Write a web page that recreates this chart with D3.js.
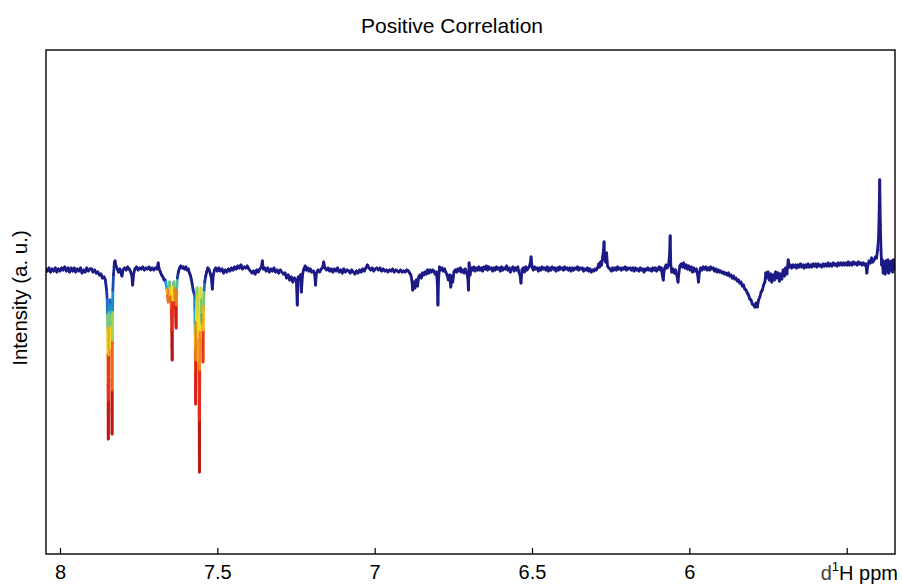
<!DOCTYPE html>
<html><head><meta charset="utf-8">
<script src="https://cdn.jsdelivr.net/npm/d3@7/dist/d3.min.js"></script>
<style>body{margin:0;background:#fff} text{font-family:"Liberation Sans",Arial,Helvetica,sans-serif;fill:#000}</style>
</head><body><svg id="c" width="902" height="587"></svg>
<script>
const title = "Positive Correlation";
const yLabel = "Intensity (a. u.)";
const xTicks = [8, 7.5, 7, 6.5, 6, 5.5];
const xTickLabels = ["8", "7.5", "7", "6.5", "6", ""];
const xLimits = [8.0445, 5.3465];
const yLimits = [-2.84, 2.2];
// [ppm, intensity, correlation]
const spectrum = [
[8.045,0.01],[8.04,-0.01],[8.035,0.02],[8.03,-0.02],[8.025,0.01],[8.02,-0.01],[8.015,0.02],[8.01,-0.02],[8.005,0.01],[8.00,-0.01],[7.995,0.02],[7.99,0.00],[7.985,0.03],[7.98,-0.01],[7.975,0.02],[7.97,-0.02],[7.965,0.02],[7.96,-0.01],[7.955,0.02],[7.95,-0.02],[7.945,0.01],[7.94,-0.01],[7.935,0.02],[7.93,-0.03],[7.925,0.00],[7.92,-0.02],[7.915,0.02],[7.91,-0.01],[7.905,0.01],[7.90,0.01],[7.895,-0.02],[7.89,0.00],[7.885,-0.03],[7.88,-0.02],[7.875,-0.05],[7.87,-0.04],[7.865,-0.08],[7.86,-0.07],[7.856,-0.1],
[7.852,-0.2,0.05],[7.850,-0.3,0.12],[7.849,-0.45,0.3],[7.8485,-0.6,0.5],[7.848,-0.85,0.68],[7.8475,-1.15,0.78],[7.847,-1.45,0.86],[7.8466,-1.69,0.95],
[7.846,-1.3,0.88],[7.8455,-0.85,0.76],[7.845,-0.55,0.55],[7.844,-0.4,0.32],[7.842,-0.32,0.2],[7.840,-0.3,0.15],[7.838,-0.35,0.25],
[7.837,-0.45,0.32],[7.8365,-0.58,0.5],[7.836,-0.8,0.68],[7.8355,-1.1,0.78],[7.835,-1.4,0.86],[7.8345,-1.64,0.95],
[7.834,-1.2,0.88],[7.8335,-0.7,0.62],[7.833,-0.4,0.32],[7.832,-0.2,0.2],[7.830,-0.05,0.08],
[7.827,0.08],[7.825,0.09],[7.822,0.04],[7.818,0.01],[7.814,-0.02],[7.81,0.01],[7.806,-0.03],[7.803,-0.06],[7.80,0.0],
[7.795,0.02],[7.79,0.0],[7.785,0.03],[7.78,0.01],[7.775,-0.02],[7.772,-0.05],[7.769,-0.15],[7.766,-0.04],[7.762,0.01],[7.757,0.03],[7.752,0.0],[7.747,0.02],[7.742,0.01],[7.737,0.03],[7.732,0.0],[7.727,0.02],[7.722,0.01],[7.717,0.03],[7.712,0.0],[7.707,0.02],[7.702,0.0],[7.697,0.02],[7.692,0.01],[7.688,0.07],[7.685,0.01],[7.681,-0.02],[7.677,-0.05],[7.673,-0.07],[7.669,-0.10],[7.666,-0.1],
[7.664,-0.12,0.1],[7.660,-0.2,0.5],[7.658,-0.26,0.76],[7.656,-0.32,0.86],[7.654,-0.18,0.6],[7.652,-0.12,0.25],[7.650,-0.18,0.55],[7.648,-0.27,0.7],[7.646,-0.4,0.82],[7.645,-0.6,0.86],[7.6443,-0.75,0.9],[7.6435,-0.9,0.96],[7.643,-0.6,0.9],[7.642,-0.3,0.76],[7.640,-0.14,0.4],[7.638,-0.12,0.2],[7.636,-0.2,0.65],[7.634,-0.33,0.78],[7.6325,-0.45,0.86],[7.631,-0.58,0.92],[7.630,-0.35,0.84],[7.629,-0.18,0.6],[7.627,-0.08,0.15],
[7.624,-0.02],[7.62,0.02],[7.616,0.04],[7.612,0.02],[7.608,0.03],[7.604,0.01],[7.60,0.03],[7.596,0.0],[7.592,0.01],[7.589,-0.03],[7.586,-0.05],[7.583,-0.09],[7.580,-0.14],[7.577,-0.2,0.05],[7.574,-0.23,0.1],
[7.572,-0.26,0.15],[7.5715,-0.4,0.28],[7.571,-0.55,0.35],[7.5705,-0.65,0.55],[7.570,-0.8,0.7],[7.5695,-1.05,0.8],[7.569,-1.34,0.9],[7.568,-0.9,0.82],[7.567,-0.5,0.62],[7.566,-0.3,0.48],[7.5645,-0.18,0.42],[7.563,-0.25,0.48],[7.5615,-0.45,0.56],[7.5605,-0.7,0.62],[7.559,-0.95,0.7],[7.558,-1.3,0.82],[7.5575,-1.7,0.88],[7.557,-2.02,0.96],[7.5565,-1.5,0.88],[7.556,-1.0,0.78],[7.555,-0.6,0.62],[7.554,-0.3,0.55],[7.5525,-0.18,0.58],[7.551,-0.3,0.52],[7.5495,-0.45,0.32],[7.548,-0.55,0.3],[7.5465,-0.7,0.66],[7.5455,-0.92,0.88],[7.5445,-0.6,0.74],[7.5435,-0.35,0.55],[7.542,-0.2,0.3],[7.540,-0.12,0.12],
[7.537,-0.06],[7.534,-0.02],[7.53,0.02],[7.526,0.0],[7.522,-0.04],[7.519,-0.08],[7.516,-0.19],[7.513,-0.05],[7.509,0.0],[7.505,0.02],[7.50,-0.01],
[7.495,0.02],[7.49,-0.01],[7.485,0.01],[7.48,-0.03],[7.475,0.0],[7.47,-0.02],[7.465,0.01],[7.46,-0.01],[7.455,0.02],[7.45,0.0],[7.445,0.03],[7.44,0.01],[7.435,0.04],[7.43,0.02],[7.425,0.05],[7.42,0.01],[7.415,0.03],[7.41,0.02],[7.405,0.04],[7.40,0.01],[7.395,-0.01],[7.39,-0.03],[7.385,-0.01],[7.38,-0.04],[7.375,0.0],[7.37,-0.02],[7.365,0.01],[7.36,0.03],[7.357,0.09],[7.354,0.01],
[7.35,0.02],[7.345,-0.01],[7.34,0.02],[7.335,-0.02],[7.33,0.01],[7.325,-0.01],[7.32,0.02],[7.315,-0.02],[7.31,0.0],[7.305,-0.03],[7.30,0.0],[7.295,-0.02],
[7.29,-0.04],[7.285,-0.03],[7.28,-0.08],[7.275,-0.05],[7.27,-0.1],[7.265,-0.07],[7.26,-0.12],[7.255,-0.08],
[7.249,-0.1],[7.246,-0.35],[7.243,-0.07],[7.239,-0.1],[7.236,-0.05],[7.233,-0.22],[7.229,-0.04],[7.225,0.01],[7.221,0.04],[7.217,0.0],[7.213,0.02],[7.209,-0.01],[7.205,0.01],[7.2,-0.02],[7.195,-0.01],[7.191,-0.04],[7.188,-0.15],[7.185,-0.03],[7.18,0.0],[7.175,-0.02],[7.17,0.01],[7.166,0.02],[7.162,0.08],[7.158,0.02],
[7.153,0.0],[7.148,0.02],[7.143,-0.01],[7.138,0.01],[7.133,-0.02],[7.128,0.01],[7.123,-0.01],[7.118,0.02],[7.113,-0.02],[7.108,0.0],[7.103,-0.03],[7.098,0.01],[7.093,-0.02],[7.088,0.0],[7.083,-0.01],[7.078,-0.03],[7.073,0.0],[7.068,-0.02],[7.063,-0.04],[7.058,-0.01],[7.053,-0.03],[7.048,0.0],[7.043,-0.02],[7.038,0.01],[7.033,-0.01],[7.028,0.02],[7.023,0.05],[7.018,0.02],[7.013,0.0],[7.008,0.02],[7.003,-0.01],[6.998,0.01],[6.993,0.02],[6.988,0.0],[6.983,0.02],[6.978,-0.01],[6.973,0.01],[6.968,-0.01],[6.963,0.0],[6.958,-0.02],[6.953,0.0],[6.948,-0.01],[6.943,0.01],[6.938,-0.02],[6.933,0.0],[6.928,-0.01],[6.923,-0.02],[6.918,0.0],[6.913,-0.02],[6.908,-0.01],[6.903,-0.02],[6.898,0.0],[6.893,-0.01],[6.889,-0.03],
[6.885,-0.05],[6.882,-0.1],[6.879,-0.2],[6.876,-0.12],[6.872,-0.18],[6.868,-0.1],[6.864,-0.16],[6.86,-0.07],[6.856,-0.05],[6.852,-0.08],[6.848,-0.03],[6.844,-0.05],[6.84,-0.02],[6.836,-0.04],[6.832,0.0],[6.828,-0.03],[6.824,0.0],[6.82,-0.02],[6.816,0.0],[6.812,-0.01],[6.808,-0.04],[6.804,-0.02],[6.801,-0.12],[6.799,-0.35],[6.797,-0.1],[6.794,0.03],[6.79,0.0],[6.786,0.02],[6.782,-0.01],[6.778,0.01],[6.774,-0.02],[6.77,-0.05],[6.766,-0.1],[6.762,-0.05],[6.758,-0.17],[6.755,-0.06],[6.752,-0.12],[6.748,-0.02],[6.744,0.0],[6.74,-0.02],[6.736,0.01],[6.732,-0.01],[6.728,0.02],[6.724,-0.02],[6.72,0.0],[6.716,-0.03],[6.712,0.01],[6.708,-0.02],[6.704,-0.08],[6.702,-0.2],[6.700,0.07],[6.697,-0.05],[6.693,0.02],
[6.689,0.0],[6.685,0.03],[6.681,-0.01],[6.677,0.02],[6.673,0.0],[6.669,0.03],[6.665,0.0],[6.661,0.02],[6.657,-0.01],[6.653,0.03],[6.649,0.01],[6.645,0.04],[6.641,0.0],[6.637,0.03],[6.633,0.01],[6.629,0.02],[6.625,-0.01],[6.621,0.02],[6.617,0.0],[6.613,0.03],[6.609,0.01],[6.605,0.02],[6.601,-0.01],[6.597,0.03],[6.593,0.0],[6.589,0.02],[6.585,0.01],[6.581,0.04],[6.577,0.0],[6.573,0.02],[6.569,-0.02],[6.565,0.01],[6.561,0.03],[6.557,-0.01],[6.553,0.02],[6.549,0.0],[6.545,0.03],[6.541,-0.03],[6.538,-0.05],[6.535,-0.13],[6.532,0.0],[6.528,0.02],[6.524,-0.02],[6.52,0.03],[6.516,0.0],[6.512,0.02],[6.508,0.04],[6.505,0.08],[6.503,0.13],[6.5,0.03],[6.496,0.0],[6.492,0.03],[6.488,0.01],[6.484,0.02],[6.48,-0.01],[6.476,0.02],[6.472,0.0],[6.468,0.03],[6.464,0.01],[6.46,0.02],[6.456,0.0],[6.452,0.03],[6.448,-0.01],[6.444,0.02],[6.44,0.0],[6.436,0.03],[6.432,0.01],[6.428,0.02],[6.424,-0.01],[6.42,0.02],[6.416,0.0],[6.412,0.03],[6.408,0.01],[6.404,0.02],[6.4,0.0],[6.396,0.03],[6.392,0.01],[6.388,0.02],[6.384,0.0],[6.38,0.02],[6.376,-0.01],[6.372,0.02],[6.368,0.0],[6.364,0.02],[6.36,0.01],[6.356,0.03],[6.352,0.0],[6.348,0.02],[6.344,0.01],[6.34,0.02],[6.336,-0.01],[6.332,0.01],[6.328,0.0],[6.324,0.02],[6.32,-0.01],[6.316,0.01],[6.312,-0.02],[6.308,0.0],[6.304,-0.01],[6.3,0.01],[6.296,0.0],[6.292,0.02],[6.288,0.06],[6.285,0.03],[6.282,0.08],[6.279,0.05],[6.276,0.12],[6.273,0.2],[6.271,0.28],[6.269,0.1],[6.266,0.08],[6.263,0.17],[6.26,0.04],[6.256,0.02],
[6.252,0.01],[6.248,-0.01],[6.244,0.02],[6.24,0.0],[6.236,0.02],[6.232,0.0],[6.228,0.03],[6.224,0.01],[6.22,0.02],[6.216,0.0],[6.212,0.02],[6.208,0.01],[6.204,0.03],[6.2,0.0],[6.196,0.02],[6.192,0.01],[6.188,0.02],[6.184,0.0],[6.18,0.02],[6.176,-0.01],[6.172,0.02],[6.168,0.0],[6.164,0.01],[6.16,-0.01],[6.156,0.02],[6.152,0.0],[6.148,0.01],[6.144,-0.02],[6.14,0.01],[6.136,0.0],[6.132,0.02],[6.128,0.0],[6.124,0.01],[6.12,-0.01],[6.116,0.02],[6.112,0.0],[6.108,0.02],[6.104,-0.01],[6.1,0.01],[6.096,0.03],[6.092,0.0],[6.089,0.02],[6.086,-0.05],[6.083,-0.1],[6.08,0.0],[6.077,0.03],[6.074,0.05],[6.071,0.02],[6.066,0.05],[6.063,0.15],[6.061,0.34],[6.059,0.05],[6.056,-0.02],[6.052,0.01],[6.048,-0.03],[6.044,0.0],[6.04,-0.05],[6.036,-0.12],[6.033,-0.02],[6.03,0.04],[6.026,0.06],[6.022,0.03],[6.018,0.07],[6.014,0.02],[6.01,0.05],[6.006,0.01],[6.002,0.04],[5.998,0.0],[5.994,0.03],[5.99,-0.02],[5.986,0.02],[5.982,-0.01],[5.978,0.01],[5.974,-0.04],[5.971,-0.12],[5.968,-0.02],[5.964,0.02],[5.96,0.0],[5.956,0.03],[5.952,0.01],[5.948,0.03],[5.944,0.0],[5.94,0.02],[5.936,0.0],[5.932,0.03],[5.928,0.01],[5.924,0.02],[5.92,-0.01],[5.916,0.01],[5.912,-0.02],[5.908,0.0],[5.904,-0.02],[5.9,-0.01],[5.896,-0.03],[5.892,-0.02],[5.888,-0.04],
[5.884,-0.03],[5.88,-0.05],[5.876,-0.03],[5.872,-0.06],[5.868,-0.05],[5.864,-0.08],[5.86,-0.06],[5.856,-0.09],[5.852,-0.08],[5.848,-0.11],[5.844,-0.1],[5.84,-0.13],[5.836,-0.12],[5.832,-0.16],[5.828,-0.15],[5.824,-0.19],[5.82,-0.2],[5.816,-0.23],[5.812,-0.25],[5.808,-0.29],[5.804,-0.3],[5.8,-0.34],[5.796,-0.35],[5.792,-0.37],[5.788,-0.33],[5.784,-0.37],[5.78,-0.3],[5.776,-0.27],[5.772,-0.22],[5.768,-0.2],[5.764,-0.15],[5.76,-0.12],[5.757,-0.03],[5.754,-0.08],[5.75,-0.02],[5.746,-0.1],[5.742,-0.04],[5.738,-0.12],[5.734,-0.05],[5.73,-0.1],[5.726,-0.02],[5.722,-0.08],[5.718,-0.03],[5.714,-0.11],[5.71,-0.04],[5.706,-0.09],[5.702,0.0],[5.698,-0.06],[5.694,0.02],[5.69,-0.04],[5.686,0.1],[5.683,0.03],
[5.679,0.05],[5.675,0.02],[5.671,0.05],[5.667,0.03],[5.663,0.05],[5.659,0.02],[5.655,0.05],[5.651,0.03],[5.647,0.06],[5.643,0.03],[5.639,0.05],[5.635,0.02],[5.631,0.05],[5.627,0.03],[5.623,0.06],[5.619,0.03],[5.615,0.05],[5.611,0.03],[5.607,0.06],[5.603,0.04],[5.599,0.06],[5.595,0.03],[5.591,0.06],[5.587,0.04],[5.583,0.05],[5.579,0.03],[5.575,0.06],[5.571,0.04],[5.567,0.06],[5.563,0.04],[5.559,0.07],[5.555,0.04],[5.551,0.06],[5.547,0.04],[5.543,0.07],[5.539,0.05],[5.535,0.06],[5.531,0.04],[5.527,0.07],[5.523,0.05],[5.519,0.07],[5.515,0.05],[5.511,0.07],[5.507,0.05],[5.503,0.07],[5.499,0.05],[5.495,0.08],[5.491,0.05],[5.487,0.07],[5.483,0.05],[5.479,0.08],[5.475,0.06],[5.471,0.07],[5.467,0.05],[5.463,0.08],[5.459,0.06],[5.455,0.07],[5.451,0.05],[5.447,0.07],[5.443,0.05],[5.439,0.06],[5.436,-0.03],[5.433,0.04],
[5.429,0.09],[5.425,0.07],[5.421,0.12],[5.417,0.08],[5.413,0.1],[5.409,0.13],[5.405,0.12],[5.402,0.2],[5.399,0.3],[5.397,0.55],[5.395,0.9],[5.393,0.45],[5.391,0.2],[5.389,0.05],[5.387,0.1],[5.384,-0.03],[5.381,0.08],[5.378,-0.04],[5.375,0.09],[5.372,-0.02],[5.369,0.1],[5.366,-0.03],[5.363,0.08],[5.36,0.0],[5.357,0.09],[5.354,-0.02],[5.351,0.1],[5.348,0.01],[5.345,0.08],[5.342,0.02],[5.341,0.05]
];

const m = {left: 46, right: 895, top: 50, bottom: 554};
const svg = d3.select("#c");
const x = d3.scaleLinear().domain(xLimits).range([m.left, m.right]);
const y = d3.scaleLinear().domain(yLimits).range([m.bottom, m.top]);
const jet = d3.scaleLinear()
  .domain([0, 0.12, 0.3, 0.45, 0.58, 0.7, 0.84, 1])
  .range(["#1c1a86", "#1c3fb0", "#1e9fd8", "#8fcf5a", "#f2e21e", "#f08a1e", "#e0261c", "#8e0c0c"])
  .clamp(true);

svg.append("clipPath").attr("id", "plotclip").append("rect")
  .attr("x", m.left).attr("y", m.top).attr("width", m.right - m.left).attr("height", m.bottom - m.top);

const g = svg.append("g").attr("clip-path", "url(#plotclip)");
const segs = [];
for (let i = 0; i < spectrum.length - 1; i++) {
  const a = spectrum[i], b = spectrum[i + 1];
  segs.push({a, b, r: ((a[2] || 0) + (b[2] || 0)) / 2});
}
g.selectAll("line.s").data(segs).join("line")
  .attr("class", "s")
  .attr("x1", d => x(d.a[0])).attr("y1", d => y(d.a[1]))
  .attr("x2", d => x(d.b[0])).attr("y2", d => y(d.b[1]))
  .attr("stroke", d => jet(d.r))
  .attr("stroke-width", 2.8)
  .attr("stroke-linecap", "round");

svg.append("rect").attr("x", m.left).attr("y", m.top)
  .attr("width", m.right - m.left).attr("height", m.bottom - m.top)
  .attr("fill", "none").attr("stroke", "#000").attr("stroke-width", 1.4);

const xAxis = d3.axisBottom(x).tickValues(xTicks)
  .tickFormat((d, i) => xTickLabels[i]).tickSizeInner(-6).tickSizeOuter(0).tickPadding(11);
const ax = svg.append("g").attr("transform", `translate(0,${m.bottom})`).call(xAxis);
ax.select(".domain").remove();
ax.selectAll(".tick line").attr("stroke", "#000").attr("stroke-width", 1.2);
ax.selectAll(".tick text").attr("font-size", 20).attr("font-family", '"Liberation Sans",Arial,sans-serif').attr("fill", "#000");

const xl = svg.append("text").attr("x", 898).attr("y", 580).attr("text-anchor", "end").attr("font-size", 20);
xl.append("tspan").text("d").attr("fill", "#444");
xl.append("tspan").text("1").attr("font-size", 13).attr("dy", -9);
xl.append("tspan").text("H ppm").attr("dy", 9);

svg.append("text").attr("x", 452).attr("y", 33).attr("text-anchor", "middle").attr("font-size", 21).text(title);

svg.append("text").attr("transform", "translate(27,298) rotate(-90)")
  .attr("text-anchor", "middle").attr("font-size", 20.5).text(yLabel);
</script></body></html>
